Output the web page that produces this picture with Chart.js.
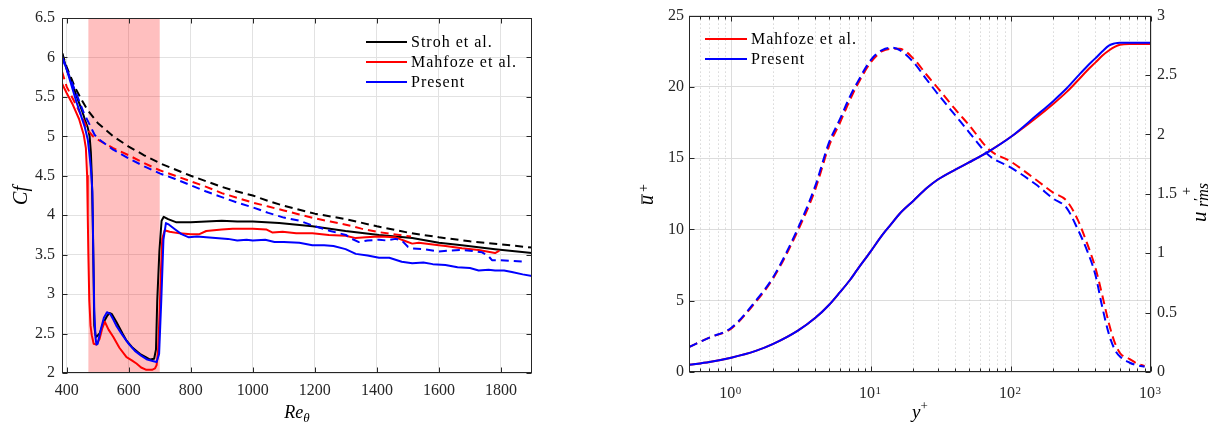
<!DOCTYPE html>
<html><head><meta charset="utf-8">
<script src="https://cdn.jsdelivr.net/npm/chart.js@4.4.1/dist/chart.umd.min.js"></script>
<style>
html,body{margin:0;padding:0;background:#fff;width:1215px;height:427px;overflow:hidden;position:relative}
#c1{position:absolute;left:0;top:0}
#c2{position:absolute;left:620px;top:0}
</style></head><body>
<canvas id="c1" width="600" height="427"></canvas>
<canvas id="c2" width="595" height="427"></canvas>
<script>
const SERIF = "'Liberation Serif','Times New Roman',serif";
const INK = '#262626';

// ---------------- Left panel: skin friction ----------------
const reTicks = [400,600,800,1000,1200,1400,1600,1800];
const cfTicks = [2,2.5,3,3.5,4,4.5,5,5.5,6,6.5];
const transitionRange = [470,700];

const strohRe = [385,400,420,432,450,459,468,474,478,481,484,487,489,493,496,501,506,512,520,530,538,545,560,580,593,610,625,637,655,669,682,688,692,699,706,713,727,754,800,850,900,950,1000,1085,1192,1299,1407,1514,1600,1674,1781,1900];
const strohCf = [6.06,5.85,5.64,5.51,5.32,5.21,5.11,5.0,4.8,4.5,3.97,3.2,2.6,2.48,2.46,2.48,2.5,2.56,2.65,2.72,2.76,2.75,2.65,2.5,2.41,2.33,2.28,2.24,2.2,2.17,2.18,2.3,2.92,3.55,3.93,3.98,3.95,3.91,3.91,3.92,3.93,3.92,3.92,3.90,3.86,3.80,3.75,3.71,3.65,3.62,3.57,3.52];

const strohLamRe = [385,400,427,450,468,500,550,600,650,700,750,800,850,900,950,1000,1050,1100,1150,1200,1300,1400,1500,1600,1700,1800,1900];
const strohLamCf = [6.06,5.88,5.62,5.45,5.33,5.17,5.00,4.87,4.76,4.66,4.58,4.50,4.43,4.36,4.30,4.25,4.18,4.12,4.07,4.02,3.95,3.86,3.78,3.72,3.67,3.63,3.59];

const mahfozeRe = [385,400,420,440,455,462,466,468,470,473,477,481,487,496,506,515,523,535,550,570,593,610,625,640,657,675,685,690,695,700,704,708,716,732,764,800,828,850,900,935,1000,1043,1064,1096,1140,1192,1245,1299,1332,1364,1407,1460,1493,1514,1535,1600,1621,1674,1728,1781,1795];
const mahfozeCf = [5.67,5.55,5.40,5.22,5.02,4.85,4.5,4.0,3.5,2.92,2.6,2.48,2.37,2.36,2.43,2.57,2.65,2.55,2.46,2.32,2.2,2.16,2.12,2.07,2.04,2.04,2.06,2.1,2.3,2.8,3.3,3.7,3.81,3.79,3.77,3.76,3.76,3.80,3.82,3.83,3.83,3.82,3.78,3.79,3.77,3.77,3.75,3.74,3.71,3.72,3.73,3.72,3.67,3.64,3.65,3.62,3.61,3.58,3.56,3.52,3.55];

const mahfozeLamRe = [385,400,430,455,470,485,500,550,600,650,700,750,800,850,900,950,1000,1050,1100,1150,1200,1250,1300,1350,1400,1450,1510];
const mahfozeLamCf = [5.82,5.63,5.40,5.20,5.07,5.00,4.96,4.85,4.76,4.66,4.57,4.50,4.43,4.36,4.28,4.22,4.16,4.11,4.06,4.01,3.96,3.92,3.88,3.83,3.79,3.76,3.73];

const presentRe = [385,400,432,459,468,473,478,483,486,489,493,496,500,510,520,530,540,550,560,580,600,620,640,660,680,690,698,705,712,720,730,750,770,794,820,850,880,920,950,980,1000,1040,1070,1100,1150,1192,1230,1260,1299,1332,1370,1407,1440,1480,1514,1550,1580,1621,1660,1700,1728,1760,1781,1810,1835,1870,1900];
const presentCf = [6.02,5.85,5.43,5.11,4.96,4.79,4.6,4.3,3.5,2.8,2.45,2.36,2.37,2.55,2.7,2.77,2.75,2.68,2.6,2.48,2.37,2.28,2.22,2.17,2.15,2.14,2.24,2.92,3.69,3.90,3.88,3.82,3.76,3.72,3.73,3.72,3.71,3.70,3.68,3.69,3.68,3.69,3.66,3.66,3.65,3.62,3.62,3.61,3.57,3.51,3.49,3.46,3.46,3.41,3.39,3.40,3.38,3.37,3.34,3.33,3.30,3.31,3.30,3.30,3.28,3.25,3.23];

const presentLamRe = [385,400,430,455,470,490,505,550,600,650,700,750,800,850,900,950,1000,1050,1100,1150,1200,1250,1300,1320,1342,1370,1407,1430,1460,1480,1500,1514,1550,1600,1630,1674,1700,1739,1760,1771,1800,1840,1878];
const presentLamCf = [6.0,5.85,5.55,5.3,5.18,5.02,4.96,4.83,4.72,4.62,4.53,4.46,4.38,4.30,4.23,4.16,4.10,4.03,3.97,3.93,3.86,3.80,3.75,3.70,3.66,3.68,3.69,3.68,3.70,3.68,3.60,3.58,3.57,3.54,3.55,3.56,3.55,3.53,3.48,3.43,3.43,3.42,3.41];

// ---------------- Right panel: profiles ----------------
const yPlusTicks = [1,10,100,1000];
const yPlusTickBase = '10';
const yPlusTickExp = ['0','1','2','3'];
const uTicks = [0,5,10,15,20,25];
const urmsTicks = [0,0.5,1,1.5,2,2.5,3];

const yPlusU = [0.5,0.7,1,1.5,2,3,4,5,6,7,8,10,12,14,16,20,25,30,40,50,70,100,150,200,250,300,350,400,450,500,550,600,700,800,1000];
const uPresent  = [0.5,0.7,1.0,1.48,1.97,2.9,3.8,4.7,5.6,6.4,7.2,8.5,9.6,10.4,11.1,12.0,12.9,13.5,14.2,14.7,15.5,16.5,17.95,19.0,19.9,20.75,21.45,22.0,22.5,22.9,23.05,23.1,23.1,23.1,23.1];
const uMahfoze  = [0.5,0.7,1.0,1.48,1.97,2.9,3.8,4.7,5.6,6.4,7.2,8.5,9.6,10.4,11.1,12.0,12.9,13.5,14.2,14.7,15.5,16.5,17.8,18.8,19.65,20.45,21.15,21.7,22.2,22.55,22.8,22.95,23.0,23.0,23.0];

const yPlusRms = [0.5,0.7,1,1.5,2,3,4,5,6,7,8,10,12,14,16,20,25,30,40,50,70,100,150,200,250,300,350,400,450,500,550,600,700,800,900];
const urmsPresent = [0.21,0.29,0.37,0.60,0.80,1.21,1.57,1.93,2.13,2.31,2.44,2.63,2.71,2.73,2.71,2.61,2.46,2.34,2.16,2.02,1.82,1.72,1.58,1.46,1.38,1.20,1.02,0.82,0.54,0.32,0.19,0.13,0.08,0.055,0.045];
const urmsMahfoze = [0.21,0.29,0.365,0.59,0.79,1.19,1.54,1.90,2.10,2.28,2.42,2.61,2.70,2.72,2.72,2.64,2.50,2.39,2.21,2.08,1.87,1.77,1.62,1.51,1.44,1.28,1.08,0.88,0.64,0.41,0.25,0.16,0.11,0.07,0.05];

// ---------------- helpers ----------------
const pts = (xs, ys) => xs.map((x, i) => ({x, y: ys[i]}));
const crisp = v => Math.round(v) + 0.5;
const TICK_FONT = 16;

const shadePlugin = {
  id: 'shade',
  beforeDatasetsDraw(chart, args, opts) {
    if (!opts.range) return;
    const {ctx, chartArea: a, scales: {x}} = chart;
    const x0 = x.getPixelForValue(opts.range[0]), x1 = x.getPixelForValue(opts.range[1]);
    ctx.save();
    ctx.fillStyle = 'rgba(255,0,0,0.25)';
    ctx.fillRect(x0, a.top, x1 - x0, a.bottom - a.top);
    ctx.restore();
  }
};

const minorGridPlugin = {
  id: 'minorGrid',
  beforeDatasetsDraw(chart, args, opts) {
    if (!opts.values) return;
    const {ctx, chartArea: a, scales: {x}} = chart;
    ctx.save();
    ctx.strokeStyle = '#c4c4c4'; ctx.lineWidth = 1; ctx.setLineDash([1, 3]);
    opts.values.forEach(v => {
      const px = crisp(x.getPixelForValue(v));
      ctx.beginPath(); ctx.moveTo(px, a.top); ctx.lineTo(px, a.bottom); ctx.stroke();
    });
    ctx.restore();
  }
};

const framePlugin = {
  id: 'frame',
  afterDatasetsDraw(chart, args, opts) {
    const {ctx, chartArea: a, scales} = chart;
    const L = crisp(a.left), R = crisp(a.right - 1), T = crisp(a.top), B = crisp(a.bottom - 1);
    ctx.save();
    ctx.strokeStyle = INK; ctx.lineWidth = 1;
    ctx.strokeRect(L, T, R - L, B - T);
    const tl = 5;
    ctx.beginPath();
    scales.x.ticks.forEach(t => {
      const px = crisp(scales.x.getPixelForValue(t.value));
      ctx.moveTo(px, B); ctx.lineTo(px, B - tl);
      ctx.moveTo(px, T); ctx.lineTo(px, T + tl);
    });
    (opts.xMinor || []).forEach(v => {
      const px = crisp(scales.x.getPixelForValue(v));
      ctx.moveTo(px, B); ctx.lineTo(px, B - 3);
      ctx.moveTo(px, T); ctx.lineTo(px, T + 3);
    });
    scales.y.ticks.forEach(t => {
      const py = crisp(scales.y.getPixelForValue(t.value));
      ctx.moveTo(L, py); ctx.lineTo(L + tl, py);
      if (!scales.y2) { ctx.moveTo(R, py); ctx.lineTo(R - tl, py); }
    });
    if (scales.y2) {
      scales.y2.ticks.forEach(t => {
        const py = crisp(scales.y2.getPixelForValue(t.value));
        ctx.moveTo(R, py); ctx.lineTo(R - tl, py);
      });
    }
    ctx.stroke();
    ctx.restore();
  }
};

// superscript exponents for the log-axis labels "10^n"
const expPlugin = {
  id: 'logExp',
  afterDraw(chart, args, opts) {
    if (!opts.exps) return;
    const {ctx, chartArea: a, scales: {x}} = chart;
    ctx.save();
    ctx.font = `${TICK_FONT}px ${SERIF}`;
    const w = ctx.measureText(yPlusTickBase).width;
    ctx.font = `11px ${SERIF}`;
    ctx.fillStyle = INK; ctx.textAlign = 'left'; ctx.textBaseline = 'alphabetic';
    x.ticks.forEach((t, i) => {
      const px = x.getPixelForValue(t.value) + opts.offset;
      ctx.fillText(opts.exps[i], px + w / 2 + 0.5, a.bottom + opts.dy);
    });
    ctx.restore();
  }
};

const legendPlugin = {
  id: 'miniLegend',
  afterDraw(chart, args, opts) {
    const {ctx} = chart;
    const items = chart.data.datasets.filter(d => d.inLegend);
    ctx.save();
    ctx.font = `${opts.size}px ${SERIF}`;
    if ('letterSpacing' in ctx) ctx.letterSpacing = opts.spacing + 'px';
    ctx.textBaseline = 'middle'; ctx.textAlign = 'left'; ctx.fillStyle = '#000';
    items.forEach((d, i) => {
      const y = opts.y + i * opts.rowH;
      ctx.strokeStyle = d.borderColor; ctx.lineWidth = 2; ctx.setLineDash([]);
      ctx.beginPath(); ctx.moveTo(opts.x, y); ctx.lineTo(opts.x + opts.len, y); ctx.stroke();
      ctx.fillText(d.label, opts.x + opts.len + 4, y + 1);
    });
    ctx.restore();
  }
};

// rich text label: parts {t, s, x (optional local x), dy, upright, bar}
function richText(ctx, ox, oy, rot, parts, center) {
  ctx.save();
  ctx.translate(ox, oy); ctx.rotate(rot);
  let end = 0, maxX = 0;
  const laid = parts.map(p => {
    ctx.font = `${p.upright ? '' : 'italic '}${p.s}px ${SERIF}`;
    const w = ctx.measureText(p.t).width;
    const sx = (p.x !== undefined) ? p.x : end;
    end = sx + w;
    maxX = Math.max(maxX, end);
    return {...p, sx, w};
  });
  const off = center ? -maxX / 2 : 0;
  ctx.fillStyle = '#000'; ctx.textBaseline = 'alphabetic'; ctx.textAlign = 'left';
  laid.forEach(p => {
    ctx.font = `${p.upright ? '' : 'italic '}${p.s}px ${SERIF}`;
    ctx.fillText(p.t, off + p.sx, p.dy || 0);
    if (p.bar) {
      ctx.strokeStyle = '#000'; ctx.lineWidth = 1;
      ctx.beginPath(); ctx.moveTo(off + p.sx + 1, p.bar); ctx.lineTo(off + p.sx + p.w + 1, p.bar); ctx.stroke();
    }
  });
  ctx.restore();
}

const titlesPlugin = {
  id: 'titles',
  afterDraw(chart, args, opts) { opts.draw && opts.draw(chart.ctx, chart.chartArea); }
};

Chart.defaults.font.family = SERIF;
Chart.defaults.color = INK;

const common = {
  responsive: false, animation: false, events: [],
  elements: { point: { radius: 0 }, line: { borderWidth: 2, borderJoinStyle: 'round' } },
};

// ---------------- Left chart ----------------
const solid = (label, xs, ys, color, order, inLegend) => ({label, data: pts(xs, ys), borderColor: color, backgroundColor: color, borderWidth: 2, tension: 0, order, inLegend});
const dashed = (label, xs, ys, color, order) => ({label, data: pts(xs, ys), borderColor: color, backgroundColor: color, borderWidth: 2, borderDash: [8, 5], tension: 0, order});

new Chart(document.getElementById('c1'), {
  type: 'line',
  data: { datasets: [
    solid('Stroh et al.', strohRe, strohCf, '#000000', 4, true),
    solid('Mahfoze et al.', mahfozeRe, mahfozeCf, '#ff0000', 3, true),
    solid('Present', presentRe, presentCf, '#0000ff', 0, true),
    dashed('Stroh et al. (laminar)', strohLamRe, strohLamCf, '#000000', 5),
    dashed('Mahfoze et al. (laminar)', mahfozeLamRe, mahfozeLamCf, '#ff0000', 2),
    dashed('Present (laminar)', presentLamRe, presentLamCf, '#0000ff', 1),
  ]},
  options: {
    ...common,
    layout: { padding: { top: 18, right: 68, left: 0, bottom: 0 } },
    plugins: {
      legend: { display: false }, tooltip: { enabled: false },
      shade: { range: transitionRange },
      miniLegend: { x: 366, y: 42, rowH: 20, len: 41, size: 16, spacing: 1 },
      titles: { draw(ctx, a) {
        richText(ctx, 21, (a.top + a.bottom) / 2, -Math.PI / 2, [{t: 'Cf', s: 20, dy: 6}], true);
        richText(ctx, (a.left + a.right) / 2, 418, 0, [{t: 'Re', s: 18}, {t: '\u03b8', s: 13, dy: 4}], true);
      }}
    },
    scales: {
      x: { type: 'linear', min: 385, max: 1900,
        afterBuildTicks: s => { s.ticks = reTicks.map(v => ({value: v})); },
        afterFit: s => { s.height = 54; },
        ticks: { font: { size: TICK_FONT }, padding: 8, maxRotation: 0, autoSkip: false, callback: v => String(v) },
        grid: { color: '#e2e2e2', drawTicks: false }, border: { display: false } },
      y: { min: 2, max: 6.5,
        afterBuildTicks: s => { s.ticks = cfTicks.map(v => ({value: v})); },
        afterFit: s => { s.width = 62; },
        ticks: { font: { size: TICK_FONT }, padding: 7, autoSkip: false, callback: v => String(v) },
        grid: { color: '#e2e2e2', drawTicks: false }, border: { display: false } }
    }
  },
  plugins: [shadePlugin, framePlugin, legendPlugin, titlesPlugin]
});

// ---------------- Right chart ----------------
const logMinor = [];
[0.1, 1, 10, 100].forEach(d => { for (let k = 2; k <= 9; k++) { const v = +(k * d).toFixed(3); if (v >= 0.5 && v <= 1000) logMinor.push(v); } });

const smooth = (label, xs, ys, color, axis, dash, order, inLegend) => ({label, data: pts(xs, ys), yAxisID: axis, borderColor: color, backgroundColor: color, borderWidth: 2, borderDash: dash, cubicInterpolationMode: 'monotone', order, inLegend});

new Chart(document.getElementById('c2'), {
  type: 'line',
  data: { datasets: [
    smooth('Mahfoze et al.', yPlusU, uMahfoze, '#ff0000', 'y', [], 3, true),
    smooth('Present', yPlusU, uPresent, '#0000ff', 'y', [], 1, true),
    smooth('Mahfoze et al. u\'rms', yPlusRms, urmsMahfoze, '#ff0000', 'y2', [9, 5], 2),
    smooth('Present u\'rms', yPlusRms, urmsPresent, '#0000ff', 'y2', [9, 5], 0),
  ]},
  options: {
    ...common,
    layout: { padding: { top: 15, right: 0, left: 0, bottom: 0 } },
    plugins: {
      legend: { display: false }, tooltip: { enabled: false },
      minorGrid: { values: logMinor },
      frame: { xMinor: logMinor },
      logExp: { exps: yPlusTickExp, offset: -4, dy: 22 },
      miniLegend: { x: 85, y: 39, rowH: 20, len: 42, size: 16, spacing: 1 },
      titles: { draw(ctx, a) {
        richText(ctx, 33, 205, -Math.PI / 2, [{t: 'u', s: 20, x: 0, bar: -11}, {t: '+', s: 14, x: 13, dy: -5, upright: true}]);
        richText(ctx, (a.left + a.right) / 2, 418, 0, [{t: 'y', s: 19}, {t: '+', s: 13, dy: -8, upright: true}], true);
        richText(ctx, 586, 222, -Math.PI / 2, [{t: 'u', s: 21, x: 0}, {t: 'rms', s: 16, x: 15, dy: 2}, {t: '\u2032', s: 15, x: 21, dy: -2, upright: true}, {t: '+', s: 14, x: 27, dy: -15, upright: true}]);
      }}
    },
    scales: {
      x: { type: 'logarithmic', min: 0.5, max: 1000,
        afterBuildTicks: s => { s.ticks = yPlusTicks.map(v => ({value: v, major: true})); },
        afterFit: s => { s.height = 55; },
        ticks: { font: { size: TICK_FONT }, padding: 12, labelOffset: -4, maxRotation: 0, autoSkip: false, callback: () => yPlusTickBase },
        grid: { color: '#dcdcdc', drawTicks: false }, border: { display: false } },
      y: { position: 'left', min: 0, max: 25,
        afterBuildTicks: s => { s.ticks = uTicks.map(v => ({value: v})); },
        afterFit: s => { s.width = 69; },
        ticks: { font: { size: TICK_FONT }, padding: 5, autoSkip: false, callback: v => String(v) },
        grid: { color: '#dcdcdc', drawTicks: false }, border: { display: false } },
      y2: { position: 'right', min: 0, max: 3,
        afterBuildTicks: s => { s.ticks = urmsTicks.map(v => ({value: v})); },
        afterFit: s => { s.width = 64; },
        ticks: { font: { size: TICK_FONT }, padding: 6, autoSkip: false, callback: v => String(v) },
        grid: { drawOnChartArea: false, drawTicks: false }, border: { display: false } }
    }
  },
  plugins: [minorGridPlugin, framePlugin, expPlugin, legendPlugin, titlesPlugin]
});
</script>
</body></html>
